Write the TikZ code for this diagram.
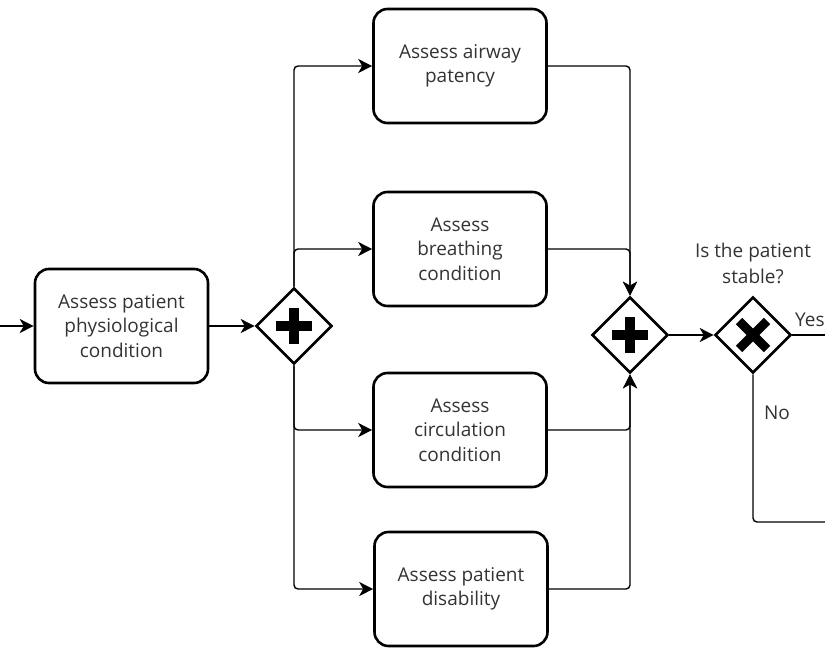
\documentclass[tikz,border=0pt]{standalone}
\usepackage{fontspec}
\setmainfont{Open Sans}
\usetikzlibrary{shapes.geometric,arrows.meta}
\definecolor{txt}{HTML}{333333}
\tikzset{
  task/.style={draw, line width=2.6pt, rounded corners=14pt, minimum width=173pt,
    minimum height=114pt, align=center, text=txt, inner sep=2pt,
    font=\fontsize{19}{24.5}\selectfont},
  gate/.style={draw, diamond, aspect=1, line width=2.6pt, minimum width=76pt,
    minimum height=76pt, inner sep=0pt},
  flow/.style={line width=1.4pt, rounded corners=4pt,
    -{Stealth[length=14pt,width=14pt,inset=4pt]}},
  plainflow/.style={line width=1.4pt, rounded corners=4pt},
  lbl/.style={text=txt, align=center, font=\fontsize{19}{26}\selectfont, inner sep=0pt}
}
\begin{document}
\begin{tikzpicture}[x=1pt,y=-1pt]
\useasboundingbox (0,0) rectangle (825,648);

% tasks
\node[task] (start) at (121.5,326) {Assess patient\\physiological\\condition};
\node[task] (air)   at (460,66)   {Assess airway\\patency};
\node[task] (brea)  at (460,249)  {Assess\\breathing\\condition};
\node[task] (circ)  at (460,430)  {Assess\\circulation\\condition};
\node[task] (dis)   at (461,589)  {Assess patient\\disability};

% gateways
\node[gate] (split) at (294,326) {};
\node[gate] (join)  at (630,335) {};
\node[gate] (xor)   at (753,335) {};

% gateway markers
\foreach \g in {split,join}{
  \fill (\g.center) ++(-18,-5) rectangle ++(36,10);
  \fill (\g.center) ++(-5,-18) rectangle ++(10,36);
}
\draw[line width=9pt] (xor.center) ++(-14,-14) -- ++(28,28);
\draw[line width=9pt] (xor.center) ++(14,-14) -- ++(-28,28);

% free ends
\coordinate (in)    at (0,326);
\coordinate (yesend) at (830,335);
\coordinate (noend)  at (830,522);

% sequence flows
\draw[flow] (in) -- (start.west);
\draw[flow] (start.east) -- (split.west);
\draw[flow] (split.north) |- (air.west);
\draw[flow] (split.north) |- (brea.west);
\draw[flow] (split.south) |- (circ.west);
\draw[flow] (split.south) |- (dis.west);
\draw[flow] (air.east) -| (join.north);
\draw[flow] (brea.east) -| (join.north);
\draw[flow] (circ.east) -| (join.south);
\draw[flow] (dis.east) -| (join.south);
\draw[flow] (join.east) -- (xor.west);
\draw[plainflow] (xor.east) -- (yesend);
\draw[plainflow] (xor.south) |- (noend);

% labels
\node[lbl] (q)   at (753,263) {Is the patient\\stable?};
\node[lbl, anchor=west] (yes) at (795,320) {Yes};
\node[lbl] (no)  at (777,413) {No};
\end{tikzpicture}
\end{document}
